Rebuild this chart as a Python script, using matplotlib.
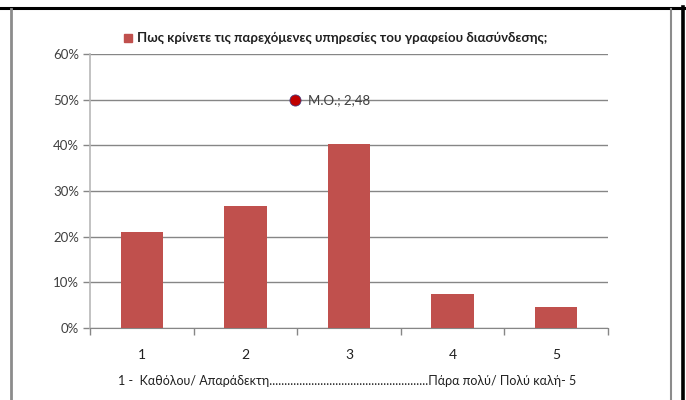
import matplotlib
matplotlib.use("Agg")
import matplotlib.pyplot as plt
from matplotlib.patches import Rectangle
from matplotlib.lines import Line2D

categories = ["1", "2", "3", "4", "5"]
values = [21.1, 26.7, 40.2, 7.5, 4.5]
mean_value = 2.48
mean_y = 50
mean_label = "M.O.; 2,48"
series_name = "Πως κρίνετε τις παρεχόμενες υπηρεσίες του γραφείου διασύνδεσης;"
yticks = [0, 10, 20, 30, 40, 50, 60]
ytick_labels = ["0%", "10%", "20%", "30%", "40%", "50%", "60%"]
footer = "1 -  Καθόλου/ Απαράδεκτη" + "." * 53 + "Πάρα πολύ/ Πολύ καλή- 5"

plt.rcParams['font.family'] = ['Lato', 'DejaVu Sans']

W, H = 686, 400
fig = plt.figure(figsize=(W / 100, H / 100), dpi=100)
fig.patch.set_facecolor("white")

# outer frames
fig.add_artist(Line2D([0, 1], [1 - 7.5 / H, 1 - 7.5 / H], color="black", lw=2.2, transform=fig.transFigure))
fig.add_artist(Line2D([682.5 / W, 682.5 / W], [0, 1 - 6.5 / H], color="black", lw=2.6, transform=fig.transFigure))
fig.add_artist(Line2D([11 / W, 11 / W], [0, 1 - 9 / H], color="#8c8c8c", lw=2.0, transform=fig.transFigure))
fig.add_artist(Line2D([671 / W, 671 / W], [0, 1 - 9 / H], color="#8c8c8c", lw=1.5, transform=fig.transFigure))

left, right, top, bottom = 90, 608, 54, 328
ax = fig.add_axes([left / W, 1 - bottom / H, (right - left) / W, (bottom - top) / H])

x = list(range(1, len(categories) + 1))
ax.bar(x, values, width=0.41, color="#C0504D", zorder=3)
ax.set_xlim(0.5, len(categories) + 0.5)
ax.set_ylim(0, 60)

ax.set_yticks(yticks)
ax.set_yticklabels(ytick_labels, fontsize=9.5, color="#404040")
ax.yaxis.grid(True, color="#868686", lw=1.0, zorder=0)
ax.tick_params(axis="y", length=5, color="#868686", width=1.0, pad=3)

ax.set_xticks([i + 0.5 for i in range(0, len(categories) + 1)])
ax.set_xticklabels([])
ax.set_xticks(x, minor=True)
ax.set_xticklabels(categories, minor=True, fontsize=10, color="#202020")
ax.tick_params(axis="x", which="major", length=5, color="#868686", width=1.0)
ax.tick_params(axis="x", which="minor", length=0, pad=15)

for s in ["top", "right"]:
    ax.spines[s].set_visible(False)
ax.spines["left"].set_color("#b8b8b8")
ax.spines["bottom"].set_color("#868686")
ax.spines["left"].set_linewidth(1.2)

ax.plot([mean_value], [mean_y], "o", color="#C00000", markeredgecolor="#4a3a7a",
        markeredgewidth=0.6, markersize=8, zorder=5, clip_on=False)
ax.annotate(mean_label, (mean_value, mean_y), xytext=(9, 0), textcoords="offset points",
            va="center", ha="left", fontsize=9.5, color="#404040")

# legend
fig.add_artist(Rectangle((123.5 / W, 1 - 42 / H), 8 / W, 8 / H, color="#C0504D", transform=fig.transFigure))
fig.text(137 / W, 1 - 37.5 / H, series_name, fontsize=9.5, fontweight="bold", va="center", ha="left", color="#202020")

fig.text(347 / W, 1 - 381 / H, footer, fontsize=9, va="center", ha="center", color="#202020")

fig.savefig("out.png", dpi=100, facecolor="white")
